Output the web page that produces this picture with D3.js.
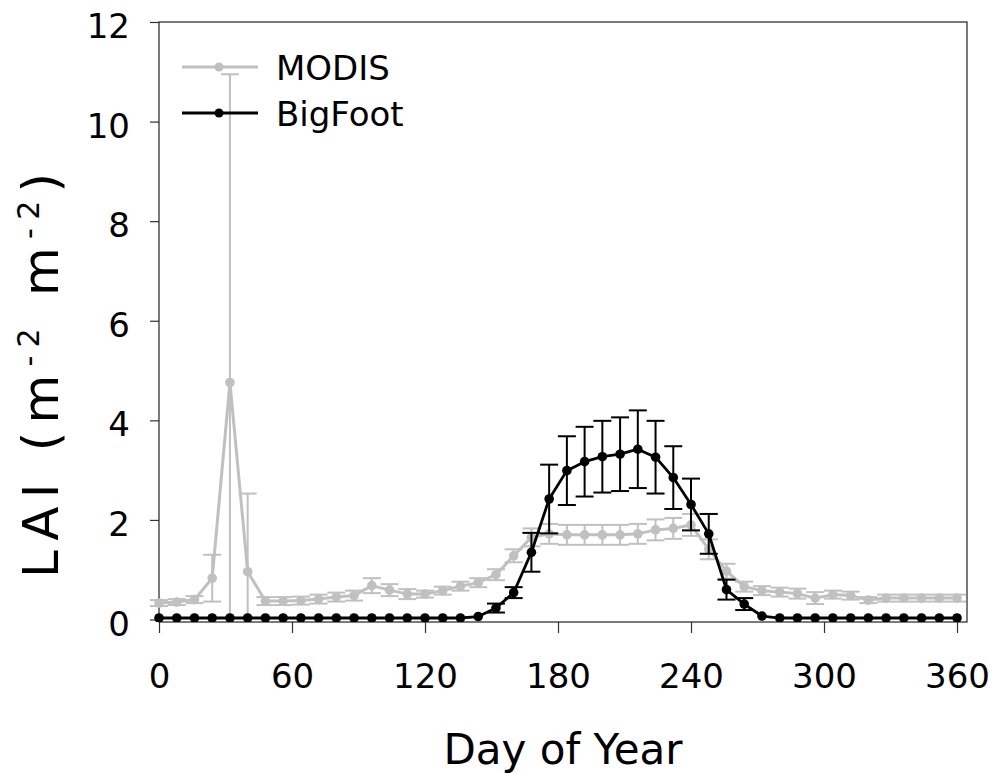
<!DOCTYPE html>
<html>
<head>
<meta charset="utf-8">
<script src="https://cdn.jsdelivr.net/npm/d3@7"></script>
<style>
  html, body { margin: 0; padding: 0; background: #fff; }
  svg { display: block; font-family: "DejaVu Sans", Verdana, sans-serif; }
</style>
</head>
<body>
<svg id="chart" width="996" height="773"></svg>
<script>
// ---- data ----
const days = [0, 8, 16, 24, 32, 40, 48, 56, 64, 72, 80, 88, 96, 104, 112, 120, 128, 136, 144, 152,
  160, 168, 176, 184, 192, 200, 208, 216, 224, 232, 240, 248, 256, 264, 272, 280, 288, 296, 304,
  312, 320, 328, 336, 344, 352, 360];

const modis = [0.33, 0.35, 0.40, 0.83, 4.76, 0.96, 0.37, 0.37, 0.38, 0.41, 0.45, 0.48, 0.68, 0.59,
  0.51, 0.51, 0.58, 0.67, 0.74, 0.90, 1.28, 1.65, 1.72, 1.70, 1.70, 1.70, 1.70, 1.72, 1.80, 1.83,
  1.90, 1.41, 0.97, 0.66, 0.58, 0.55, 0.52, 0.43, 0.50, 0.48, 0.39, 0.43, 0.43, 0.43, 0.43, 0.43];

const modisErr = [0.06, 0.06, 0.07, 0.47, 6.19, 1.57, 0.08, 0.08, 0.08, 0.09, 0.09, 0.10, 0.15, 0.12,
  0.10, 0.07, 0.08, 0.09, 0.09, 0.11, 0.13, 0.18, 0.20, 0.20, 0.20, 0.20, 0.20, 0.20, 0.21, 0.21,
  0.22, 0.20, 0.15, 0.10, 0.09, 0.09, 0.10, 0.12, 0.08, 0.08, 0.06, 0.07, 0.07, 0.07, 0.07, 0.07];

const bigfoot = [0.03, 0.03, 0.03, 0.03, 0.03, 0.03, 0.03, 0.03, 0.03, 0.03, 0.03, 0.03, 0.03, 0.03,
  0.03, 0.03, 0.03, 0.03, 0.06, 0.23, 0.54, 1.35, 2.42, 2.99, 3.17, 3.27, 3.32, 3.42, 3.26, 2.85,
  2.31, 1.72, 0.60, 0.31, 0.07, 0.03, 0.03, 0.03, 0.03, 0.03, 0.03, 0.03, 0.03, 0.03, 0.03, 0.03];

const bigfootErr = [0, 0, 0, 0, 0, 0, 0, 0, 0, 0, 0, 0, 0, 0, 0, 0, 0, 0, 0, 0.09, 0.11, 0.39, 0.69,
  0.69, 0.70, 0.72, 0.74, 0.78, 0.73, 0.63, 0.52, 0.40, 0.20, 0.12, 0, 0, 0, 0, 0, 0, 0, 0, 0, 0, 0, 0];

const xTicks = [0, 60, 120, 180, 240, 300, 360];
const yTicks = [0, 2, 4, 6, 8, 10, 12];
const seriesNames = ["MODIS", "BigFoot"];
const seriesColors = ["#c0c0c0", "#000000"];
const xTitle = "Day of Year";

// ---- layout ----
const svg = d3.select("#chart");
const L = 159, R = 967, T = 22, B = 622;
const x = d3.scaleLinear().domain([0, 364.5]).range([L, R]);
const y = d3.scaleLinear().domain([-0.05, 12]).range([B, T]);

svg.append("defs").append("clipPath").attr("id", "clip")
  .append("rect").attr("x", 130).attr("y", T).attr("width", R - 130 + 20).attr("height", B - T);

// axes
const xAxis = svg.append("g").attr("transform", `translate(0,${B})`)
  .call(d3.axisBottom(x).tickValues(xTicks).tickSize(11).tickSizeOuter(0).tickFormat(d3.format("d")));
xAxis.select(".domain").remove();
xAxis.selectAll("line").attr("stroke", "#333").attr("stroke-width", 1.2);
xAxis.selectAll("text").attr("y", 66).attr("dy", null)
  .attr("font-size", 34).attr("fill", "#000").attr("font-family", "DejaVu Sans");

const yAxis = svg.append("g").attr("transform", `translate(${L},0)`)
  .call(d3.axisLeft(y).tickValues(yTicks).tickSize(9).tickSizeOuter(0).tickFormat(d3.format("d")));
yAxis.select(".domain").remove();
yAxis.selectAll("line").attr("stroke", "#333").attr("stroke-width", 1.2);
yAxis.selectAll("text").attr("x", -29).attr("dy", null).attr("y", 15.5)
  .attr("font-size", 34).attr("fill", "#000").attr("font-family", "DejaVu Sans");

// frame
svg.append("rect").attr("x", L).attr("y", T).attr("width", R - L).attr("height", B - T)
  .attr("fill", "none").attr("stroke", "#222").attr("stroke-width", 1.2);

// series
const plot = svg.append("g").attr("clip-path", "url(#clip)");
function drawSeries(vals, errs, color, lw) {
  const g = plot.append("g");
  const cap = 9;
  days.forEach((d, i) => {
    if (!errs[i]) return;
    const cx = x(d), y1 = y(vals[i] + errs[i]), y0 = y(vals[i] - errs[i]);
    g.append("line").attr("x1", cx).attr("x2", cx).attr("y1", y1).attr("y2", y0)
      .attr("stroke", color).attr("stroke-width", 2);
    g.append("line").attr("x1", cx - cap).attr("x2", cx + cap).attr("y1", y1).attr("y2", y1)
      .attr("stroke", color).attr("stroke-width", 2);
    g.append("line").attr("x1", cx - cap).attr("x2", cx + cap).attr("y1", y0).attr("y2", y0)
      .attr("stroke", color).attr("stroke-width", 2);
  });
  const line = d3.line().x((d, i) => x(days[i])).y(d => y(d));
  g.append("path").datum(vals).attr("d", line).attr("fill", "none")
    .attr("stroke", color).attr("stroke-width", lw).attr("stroke-linejoin", "round");
  g.selectAll("circle").data(vals).enter().append("circle")
    .attr("cx", (d, i) => x(days[i])).attr("cy", d => y(d)).attr("r", 4.8).attr("fill", color);
}
drawSeries(modis, modisErr, seriesColors[0], 3);
drawSeries(bigfoot, bigfootErr, seriesColors[1], 2.8);

// legend
const legY = [67, 113];
seriesNames.forEach((name, i) => {
  const g = svg.append("g");
  g.append("line").attr("x1", 182).attr("x2", 258).attr("y1", legY[i]).attr("y2", legY[i])
    .attr("stroke", seriesColors[i]).attr("stroke-width", 3);
  g.append("circle").attr("cx", 219).attr("cy", legY[i]).attr("r", 4.5).attr("fill", seriesColors[i]);
  g.append("text").attr("x", 276).attr("y", legY[i] + 13).attr("font-size", 34)
    .attr("fill", "#000").text(name);
});

// axis titles
svg.append("text").attr("x", 563).attr("y", 764).attr("text-anchor", "middle")
  .attr("font-size", 42).attr("fill", "#000").text(xTitle);

const yt = svg.append("text").attr("transform", "translate(58,578) rotate(-90)")
  .attr("font-size", 50).attr("fill", "#000")
  .attr("textLength", 405).attr("lengthAdjust", "spacing");
yt.append("tspan").text("LAI (m");
yt.append("tspan").attr("dy", -19).attr("font-size", 30).text("-2");
yt.append("tspan").attr("dy", 19).text(" m");
yt.append("tspan").attr("dy", -19).attr("font-size", 30).text("-2");
yt.append("tspan").attr("dy", 19).text(")");
</script>
</body>
</html>
